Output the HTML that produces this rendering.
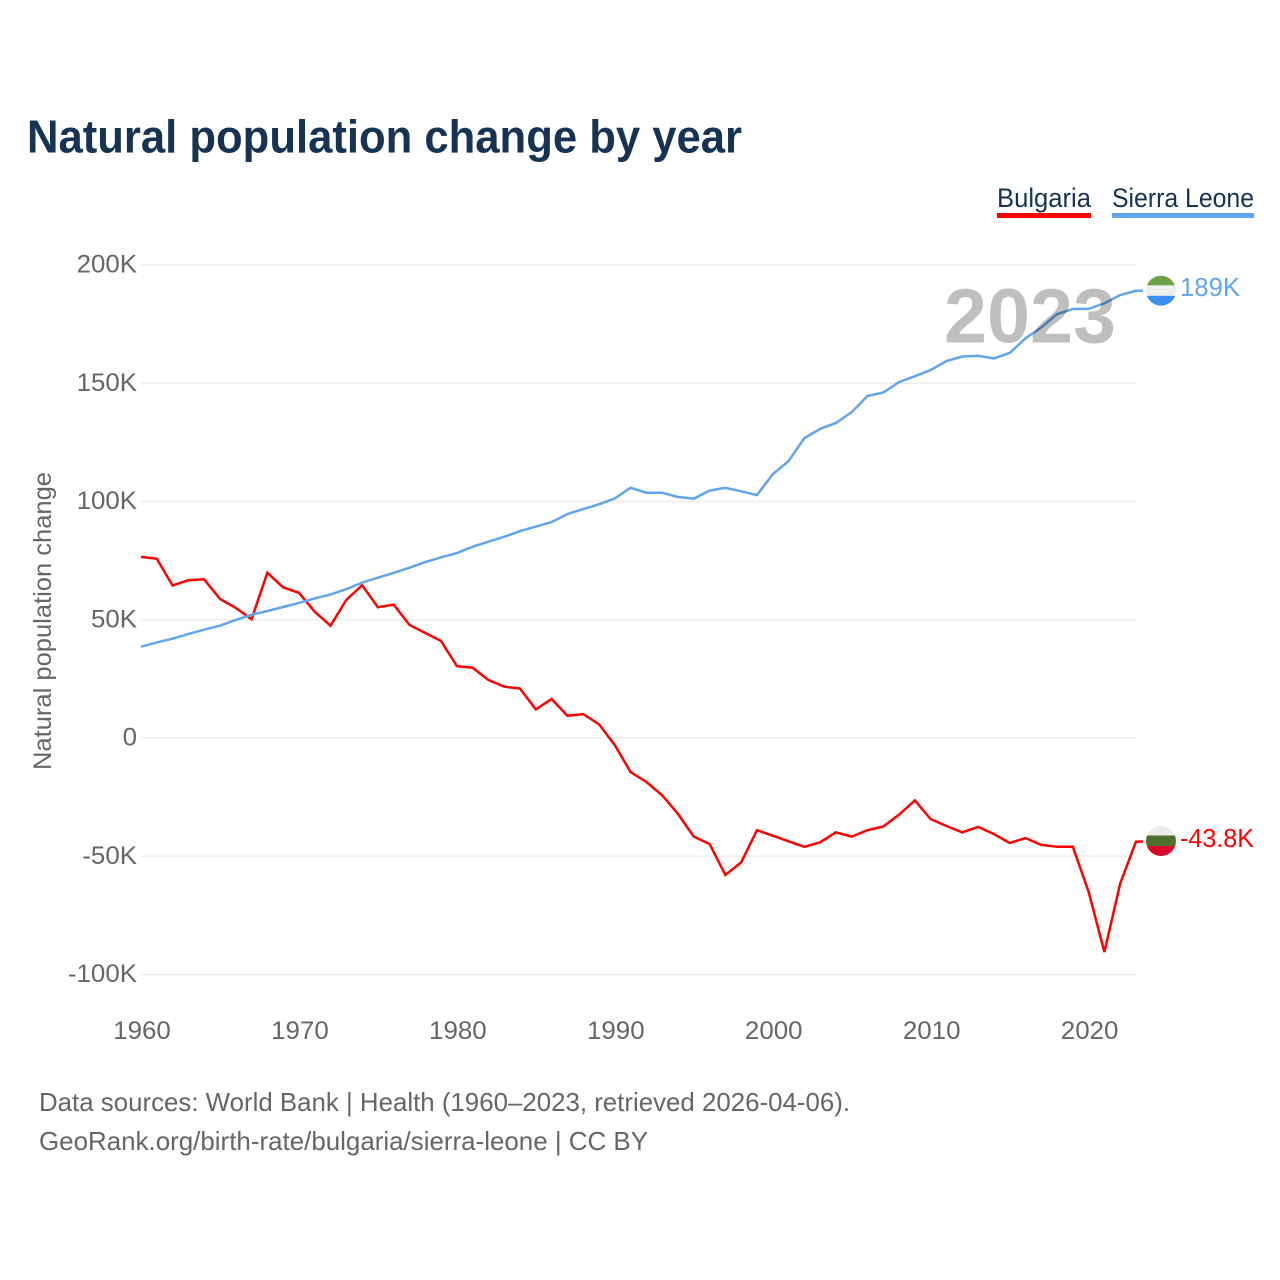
<!DOCTYPE html>
<html lang="en">
<head>
<meta charset="utf-8">
<title>Natural population change by year</title>
<style>
html,body{margin:0;padding:0;background:#fff;}
svg{display:block;}
text{font-family:"Liberation Sans",sans-serif;}
</style>
</head>
<body>
<svg id="chart" xmlns="http://www.w3.org/2000/svg" width="1280" height="1280" viewBox="0 0 1280 1280">
  <rect width="1280" height="1280" fill="#fff"/>
  <text x="27" y="152.5" font-size="46" font-weight="700" fill="#173353" textLength="715" lengthAdjust="spacingAndGlyphs">Natural population change by year</text>

  <g>
    <g>
      <text x="997" y="207" font-size="27" fill="#173353" textLength="94" lengthAdjust="spacingAndGlyphs">Bulgaria</text>
      <rect x="997" y="213" width="94" height="5" fill="#ff0000"/>
    </g>
    <g>
      <text x="1112" y="207" font-size="27" fill="#173353" textLength="142" lengthAdjust="spacingAndGlyphs">Sierra Leone</text>
      <rect x="1112" y="213" width="142" height="5" fill="#62a5ec"/>
    </g>
  </g>

  <g id="grid"></g>
  <g id="yaxis"></g>
  <g id="xaxis"></g>
  <text transform="translate(51 621) rotate(-90)" text-anchor="middle" font-size="25" fill="#666" textLength="298" lengthAdjust="spacingAndGlyphs">Natural population change</text>

  <g id="lines"></g>

  <text x="1030" y="342.5" text-anchor="middle" font-size="77" font-weight="700" fill="#000" fill-opacity="0.25" textLength="172" lengthAdjust="spacingAndGlyphs">2023</text>

  <defs>
    <clipPath id="clip-sl"><circle cx="1161" cy="290.7" r="15"/></clipPath>
    <clipPath id="clip-bg"><circle cx="1161" cy="841" r="15"/></clipPath>
  </defs>
  <g clip-path="url(#clip-sl)">
    <rect x="1146" y="275" width="30" height="10.4" fill="#6ca245"/>
    <rect x="1146" y="285.4" width="30" height="10.4" fill="#eef0ee"/>
    <rect x="1146" y="295.8" width="30" height="11" fill="#3a8ff2"/>
  </g>
  <g clip-path="url(#clip-bg)">
    <rect x="1146" y="825" width="30" height="10.5" fill="#eceeec"/>
    <rect x="1146" y="835.5" width="30" height="10.5" fill="#4f6f31"/>
    <rect x="1146" y="846" width="30" height="11" fill="#d60b2e"/>
  </g>
  <text id="end-sl" x="1180" y="296" font-size="26" fill="#62a5ec" textLength="60" lengthAdjust="spacingAndGlyphs">189K</text>
  <text id="end-bg" x="1180" y="847" font-size="26" fill="#ff0000" textLength="74" lengthAdjust="spacingAndGlyphs">-43.8K</text>

  <g>
    <text x="39" y="1111" font-size="26" fill="#666" textLength="811" lengthAdjust="spacingAndGlyphs">Data sources: World Bank | Health (1960–2023, retrieved 2026-04-06).</text>
    <text x="39" y="1150" font-size="26" fill="#666" textLength="609" lengthAdjust="spacingAndGlyphs">GeoRank.org/birth-rate/bulgaria/sierra-leone | CC BY</text>
  </g>
</svg>
<script>
const startYear = 1960;
const bulgaria = [76.6,75.8,64.5,66.7,67.1,58.8,55,50.2,69.9,63.7,61.4,53.4,47.5,58.4,64.6,55.3,56.4,47.8,44.4,41,30.4,29.7,24.5,21.7,20.9,12.1,16.5,9.4,10.1,5.8,-3,-14.4,-18.6,-24.2,-32.1,-41.7,-44.8,-57.9,-52.6,-39,-41.3,-43.7,-46,-44.1,-39.9,-41.7,-39,-37.4,-32.4,-26.4,-34.3,-37.2,-39.9,-37.6,-40.6,-44.4,-42.3,-45.2,-46,-46,-65,-90.5,-61.5,-43.8];
const sierraLeone = [38.6,40.4,42,44,45.8,47.5,49.9,52.1,53.7,55.4,57.1,59,60.7,62.9,65.7,67.8,69.8,72,74.4,76.4,78.2,80.9,83,85.1,87.5,89.4,91.3,94.7,96.8,98.8,101.3,105.8,103.7,103.7,101.9,101.2,104.6,105.8,104.3,102.7,111.5,117.1,126.8,130.7,133.2,137.8,144.6,146.1,150.5,153,155.6,159.4,161.3,161.6,160.5,162.8,169,173.6,179.2,181.4,181.5,183.8,187.3,189.1];
const yTicks = [200,150,100,50,0,-50,-100];
const yTickLabels = ['200K','150K','100K','50K','0','-50K','-100K'];
const xTicks = [1960,1970,1980,1990,2000,2010,2020];

const NS = 'http://www.w3.org/2000/svg';
const xScale = function (year) { return 141 + (year - 1960) * (995 / 63); };
const yScale = function (v) { return 738 - v * 2.365; };
const widen = 1.035;

function make(tag, parent) {
  const el = document.createElementNS(NS, tag);
  parent.appendChild(el);
  return el;
}
function fit(el) {
  const w = el.getComputedTextLength();
  el.setAttribute('textLength', (w * widen).toFixed(1));
  el.setAttribute('lengthAdjust', 'spacingAndGlyphs');
}

const grid = document.getElementById('grid');
const yaxis = document.getElementById('yaxis');
const xaxis = document.getElementById('xaxis');
const lines = document.getElementById('lines');

yTicks.forEach(function (t, i) {
  const gl = make('line', grid);
  
  
  gl.setAttribute('x1', xScale(1960));
  gl.setAttribute('x2', xScale(2023));
  gl.setAttribute('y1', yScale(t));
  gl.setAttribute('y2', yScale(t));
  gl.setAttribute('stroke', '#eeeeee');
  gl.setAttribute('stroke-width', '1.5');

  const lb = make('text', yaxis);
  
  
  lb.setAttribute('x', 137);
  lb.setAttribute('y', yScale(t) + 7.5);
  lb.setAttribute('text-anchor', 'end');
  lb.setAttribute('font-size', '25');
  lb.setAttribute('fill', '#666');
  lb.textContent = yTickLabels[i];
  fit(lb);
});

xTicks.forEach(function (t) {
  const lb = make('text', xaxis);
  
  
  lb.setAttribute('x', xScale(t) + 1);
  lb.setAttribute('y', 1039);
  lb.setAttribute('text-anchor', 'middle');
  lb.setAttribute('font-size', '25');
  lb.setAttribute('fill', '#666');
  lb.textContent = String(t);
  fit(lb);
});

function pathFor(values) {
  const pts = values.map(function (v, i) {
    return xScale(startYear + i).toFixed(2) + ',' + yScale(v).toFixed(2);
  });
  const last = values[values.length - 1];
  pts.push((xScale(startYear + values.length - 1) + 7).toFixed(2) + ',' + yScale(last).toFixed(2));
  return pts.join(' ');
}

const lineBulgaria = make('polyline', lines);


lineBulgaria.setAttribute('points', pathFor(bulgaria));
lineBulgaria.setAttribute('fill', 'none');
lineBulgaria.setAttribute('stroke', '#ff0000');
lineBulgaria.setAttribute('stroke-width', '2.5');

const lineSierra = make('polyline', lines);


lineSierra.setAttribute('points', pathFor(sierraLeone));
lineSierra.setAttribute('fill', 'none');
lineSierra.setAttribute('stroke', '#62a5ec');
lineSierra.setAttribute('stroke-width', '2.5');
</script>
</body>
</html>
